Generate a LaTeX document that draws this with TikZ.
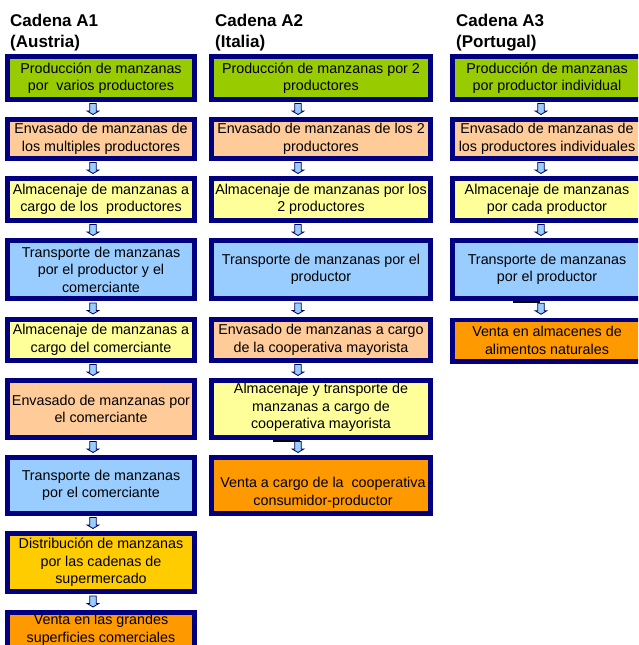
\documentclass[tikz,border=0pt]{standalone}
\usepackage{fontspec}
\setmainfont{Liberation Sans}
\usetikzlibrary{calc}
\definecolor{navyb}{RGB}{0,0,128}
\definecolor{cgreen}{HTML}{99CC00}
\definecolor{cpeach}{HTML}{FFCC99}
\definecolor{cyellow}{HTML}{FFFF99}
\definecolor{cblue}{HTML}{99CCFF}
\definecolor{corange}{HTML}{FF9900}
\definecolor{cgold}{HTML}{FFCC00}
\newcommand\boxfont{\fontsize{14.3}{17.5}\selectfont}
\newcommand\headfont{\fontsize{17}{21}\selectfont\bfseries}
\begin{document}
\begin{tikzpicture}[x=1pt,y=-1pt,
  box/.style={draw=navyb, line width=4.6pt, align=center, inner sep=0pt, font=\boxfont, text=black},
  btext/.style={align=center, inner sep=0pt, font=\boxfont, text=black},
  colA/.style={minimum width=187.4pt},
  colB/.style={minimum width=219.4pt},
  colC/.style={minimum width=189.4pt},
  rowa/.style={minimum height=43.4pt},
  rowb/.style={minimum height=39.4pt},
  rowc/.style={minimum height=42.4pt},
  rowd/.style={minimum height=58.4pt},
  rowe/.style={minimum height=41.4pt},
  rowf/.style={minimum height=57.4pt},
  rowg/.style={minimum height=56.4pt},
  rowh/.style={minimum height=58.4pt},
  rowi/.style={minimum height=41.4pt},
  head/.style={anchor=base west, inner sep=0pt, font=\headfont, text=black},
  darrow/.pic={\draw[draw=navyb!70!black, fill=cblue, line width=0.8pt, line join=miter]
     (-3.3,-5.5) -- (3.3,-5.5) -- (3.3,2) -- (5.8,2) -- (0,5.5) -- (-5.8,2) -- (-3.3,2) -- cycle;}
]
\useasboundingbox (0,0) rectangle (638,645);
\clip (0,0) rectangle (638,645);

% titles
\node[head] (t1a) at (10,26.5) {Cadena A1};
\node[head] (t1b) at (10,47.5) {(Austria)};
\node[head] (t2a) at (215,26.5) {Cadena A2};
\node[head] (t2b) at (215,47.5) {(Italia)};
\node[head] (t3a) at (456,26.5) {Cadena A3};
\node[head] (t3b) at (456,47.5) {(Portugal)};

% column A1
\node[box,colA,rowa,fill=cgreen]  (b11) at (101,78)    {Producción de manzanas\\por\ \ varios productores};
\node[box,colA,rowb,fill=cpeach]  (b12) at (101,139)   {Envasado de manzanas de\\los multiples productores};
\node[box,colA,rowc,fill=cyellow] (b13) at (101,199.5) {Almacenaje de manzanas a\\cargo de los\ \ productores};
\node[box,colA,rowd,fill=cblue]   (b14) at (101,269.5) {Transporte de manzanas\\por el productor y el\\comerciante};
\node[box,colA,rowe,fill=cyellow] (b15) at (101,340)   {Almacenaje de manzanas a\\cargo del comerciante};
\node[box,colA,rowf,fill=cpeach]  (b16) at (101,409)   {Envasado de manzanas por\\el comerciante};
\node[box,colA,rowg,fill=cblue]   (b17) at (101,485.5) {Transporte de manzanas\\por el comerciante};
\node[box,colA,rowh,fill=cgold]   (b18) at (101,562.5) {Distribución de manzanas\\por las cadenas de\\supermercado};
\node[box,colA,rowi,fill=corange] (b19) at (101,633)   {};
\node[btext] (b19t) at (101,630) {Venta en las grandes\\superficies comerciales};

% column A2
\node[box,colB,rowa,fill=cgreen]  (b21) at (321,78)    {Producción de manzanas por 2\\productores};
\node[box,colB,rowb,fill=cpeach]  (b22) at (321,139)   {Envasado de manzanas de los 2\\productores};
\node[box,colB,rowc,fill=cyellow] (b23) at (321,199.5) {Almacenaje de manzanas por los\\2 productores};
\node[box,colB,rowd,fill=cblue]   (b24) at (321,269.5) {Transporte de manzanas por el\\productor};
\node[box,colB,rowe,fill=cpeach]  (b25) at (321,340)   {Envasado de manzanas a cargo\\de la cooperativa mayorista};
\node[box,colB,rowf,fill=cyellow] (b26) at (321,409)   {};
\node[btext] (b26t) at (321,407.5) {Almacenaje y transporte de\\manzanas a cargo de\\cooperativa mayorista};
\node[box,colB,rowg,fill=corange] (b27) at (321,485.5) {};
\node[btext] (b27t) at (323,493) {Venta a cargo de la\ \ cooperativa\\consumidor-productor};

% column A3
\node[box,colC,rowa,fill=cgreen]  (b31) at (547,78)    {Producción de manzanas\\por productor individual};
\node[box,colC,rowb,fill=cpeach]  (b32) at (547,139)   {Envasado de manzanas de\\los productores individuales};
\node[box,colC,rowc,fill=cyellow] (b33) at (547,199.5) {Almacenaje de manzanas\\por cada productor};
\node[box,colC,rowd,fill=cblue]   (b34) at (547,269.5) {Transporte de manzanas\\por el productor};
\node[box,colC,rowe,fill=corange] (b35) at (547,340.5) {Venta en almacenes de\\alimentos naturales};

% small stray lines
\draw[black, line width=1.2pt] ([xshift=-34pt,yshift=-1pt]b34.south) -- ([xshift=-7pt,yshift=-1pt]b34.south);
\draw[black, line width=1.2pt] ([xshift=-48pt,yshift=-1pt]b26.south) -- ([xshift=-21pt,yshift=-1pt]b26.south);

% arrows A1
\pic at ($(b11.south)!0.5!(b12.north)+(-8,-0.5)$) {darrow};
\pic at ($(b12.south)!0.5!(b13.north)+(-8,-0.5)$) {darrow};
\pic at ($(b13.south)!0.5!(b14.north)+(-8,-0.5)$) {darrow};
\pic at ($(b14.south)!0.5!(b15.north)+(-8,-0.5)$) {darrow};
\pic at ($(b15.south)!0.5!(b16.north)+(-8,-0.5)$) {darrow};
\pic at ($(b16.south)!0.5!(b17.north)+(-8,-0.5)$) {darrow};
\pic at ($(b17.south)!0.5!(b18.north)+(-8,-0.5)$) {darrow};
\pic at ($(b18.south)!0.5!(b19.north)+(-8,-0.5)$) {darrow};
% arrows A2
\pic at ($(b21.south)!0.5!(b22.north)+(-23,-0.5)$) {darrow};
\pic at ($(b22.south)!0.5!(b23.north)+(-23,-0.5)$) {darrow};
\pic at ($(b23.south)!0.5!(b24.north)+(-23,-0.5)$) {darrow};
\pic at ($(b24.south)!0.5!(b25.north)+(-23,-0.5)$) {darrow};
\pic at ($(b25.south)!0.5!(b26.north)+(-23,-0.5)$) {darrow};
\pic at ($(b26.south)!0.5!(b27.north)+(-23,-0.5)$) {darrow};
% arrows A3
\pic at ($(b31.south)!0.5!(b32.north)+(-6,-0.5)$) {darrow};
\pic at ($(b32.south)!0.5!(b33.north)+(-6,-0.5)$) {darrow};
\pic at ($(b33.south)!0.5!(b34.north)+(-6,-0.5)$) {darrow};
\pic at ($(b34.south)!0.5!(b35.north)+(-6,-0.5)$) {darrow};
\end{tikzpicture}
\end{document}
